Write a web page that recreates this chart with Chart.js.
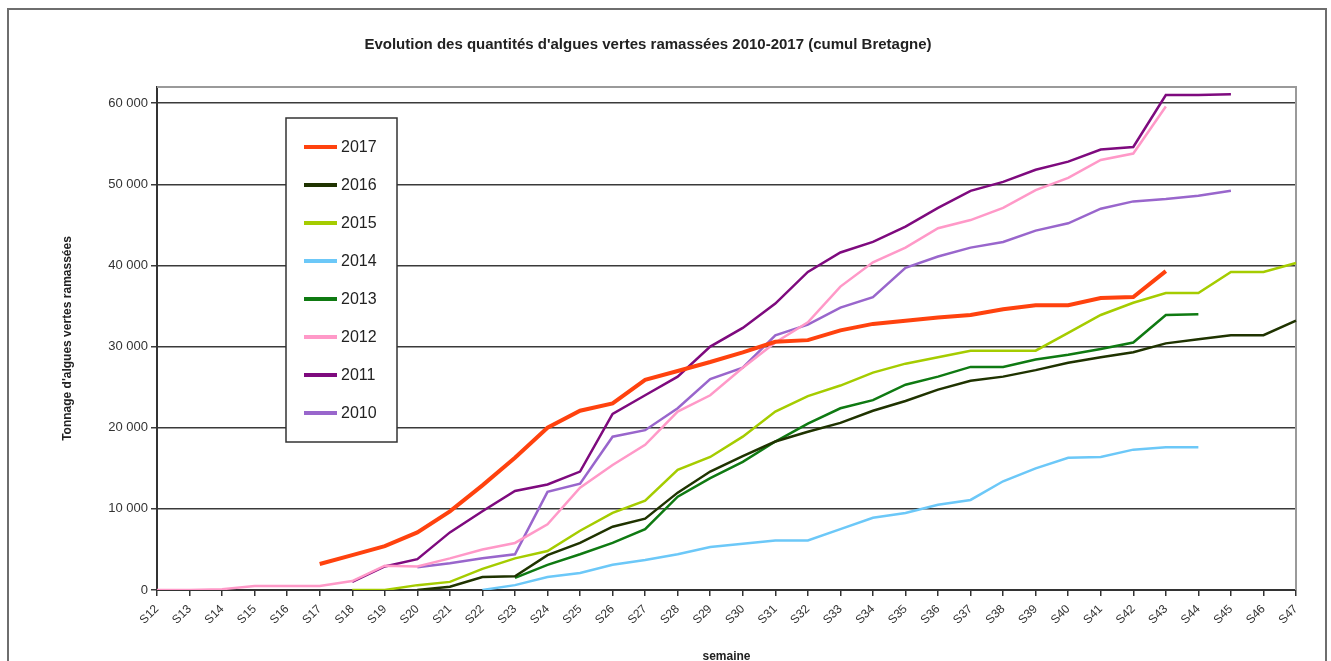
<!DOCTYPE html>
<html lang="fr">
<head>
<meta charset="utf-8">
<title>Algues vertes ramassées 2010-2017</title>
<script src="https://cdn.jsdelivr.net/npm/chart.js@4/dist/chart.umd.min.js"></script>
<style>
  html, body { margin: 0; padding: 0; background: #fff; overflow: hidden; }
  #cadre { position: absolute; left: 7px; top: 8px; width: 1316px; height: 700px; border: 2px solid #6e6e6e; }
  #zone { position: absolute; left: 0; top: 0; width: 1331px; height: 661px; }
</style>
</head>
<body>
<div id="cadre"></div>
<div id="zone"><canvas id="graphique" width="1331" height="661"></canvas></div>
<script>
// Semaines
const semaines = ['S12','S13','S14','S15','S16','S17','S18','S19','S20','S21','S22','S23',
  'S24','S25','S26','S27','S28','S29','S30','S31','S32','S33','S34','S35',
  'S36','S37','S38','S39','S40','S41','S42','S43','S44','S45','S46','S47'];

const annees = ['2017','2016','2015','2014','2013','2012','2011','2010'];

// Graduations de l'axe vertical
const graduations = [0, 10000, 20000, 30000, 40000, 50000, 60000];

// Cumul en tonnes (null = pas de donnée)
const cumul2017 = [null,null,null,null,null,3200,4300,5400,7100,9700,12900,16300,
  20000,22100,23000,25900,27000,28100,29300,30600,30800,32000,32800,33200,
  33600,33900,34600,35100,35100,36000,36100,39300,null,null,null,null];
const cumul2016 = [null,null,null,null,null,null,null,null,0,400,1600,1700,
  4300,5800,7800,8800,12000,14600,16500,18300,19500,20600,22100,23300,
  24700,25800,26300,27100,28000,28700,29300,30400,30900,31400,31400,33200];
const cumul2015 = [null,null,null,null,null,null,0,0,600,1000,2600,3900,
  4800,7300,9500,11000,14800,16400,18900,22000,23900,25200,26800,27900,
  28700,29500,29500,29500,31700,33900,35400,36600,36600,39200,39200,40300];
const cumul2014 = [null,null,null,null,null,null,null,null,null,null,0,600,
  1600,2100,3100,3700,4400,5300,5700,6100,6100,7500,8900,9500,
  10500,11100,13400,15000,16300,16400,17300,17600,17600,null,null,null];
const cumul2013 = [null,null,null,null,null,null,null,null,null,null,null,1500,
  3100,4400,5800,7500,11500,13800,15800,18300,20500,22400,23400,25300,
  26300,27500,27500,28400,29000,29700,30500,33900,34000,null,null,null];
const cumul2012 = [0,0,100,500,500,500,1100,3000,2900,3900,5000,5800,
  8100,12600,15400,17900,22000,24000,27400,30500,33000,37400,40400,42200,
  44600,45600,47100,49300,50800,53000,53800,59600,null,null,null,null];
const cumul2011 = [null,null,null,null,null,null,1000,2900,3800,7100,9700,12200,
  13000,14600,21700,24000,26300,30000,32300,35300,39200,41600,42900,44800,
  47100,49200,50300,51800,52800,54300,54600,61000,61000,61100,null,null];
const cumul2010 = [null,null,null,null,null,null,null,null,2800,3300,3900,4400,
  12100,13100,18900,19700,22400,26000,27400,31400,32700,34800,36100,39700,
  41100,42200,42900,44300,45200,47000,47900,48200,48600,49200,null,null];

const series = [cumul2017, cumul2016, cumul2015, cumul2014, cumul2013, cumul2012, cumul2011, cumul2010];
const couleurs = ['#ff420e', '#1f3300', '#a5cc00', '#6cc8f8', '#0f7a12', '#ff99c8', '#7e0a7e', '#9966cc'];
const epaisseurs = [4, 2.5, 2.5, 2.5, 2.5, 2.5, 2.5, 2.5];

const police = '"Liberation Sans", Arial, sans-serif';

// 60000 -> "60 000"
function milliers(v) {
  return String(v).replace(/\B(?=(\d{3})+(?!\d))/g, ' ');
}

// Cadre gris haut / droite de la zone de tracé
const bordureZone = {
  id: 'bordureZone',
  beforeDatasetsDraw(chart) {
    const { ctx, chartArea: a } = chart;
    ctx.save();
    ctx.strokeStyle = '#9a9a9a';
    ctx.lineWidth = 2;
    ctx.beginPath();
    ctx.moveTo(a.left, a.top);
    ctx.lineTo(a.right, a.top);
    ctx.lineTo(a.right, a.bottom);
    ctx.stroke();
    ctx.restore();
  }
};

// Légende encadrée dans la zone de tracé
const legendeBoite = {
  id: 'legendeBoite',
  afterDraw(chart) {
    const { ctx, chartArea: a } = chart;
    const x0 = a.left + 129, y0 = a.top + 31;
    ctx.save();
    ctx.fillStyle = '#fff';
    ctx.fillRect(x0, y0, 111, 324);
    ctx.strokeStyle = '#333';
    ctx.lineWidth = 1.5;
    ctx.strokeRect(x0, y0, 111, 324);
    ctx.font = '16px ' + police;
    ctx.textBaseline = 'middle';
    chart.data.datasets.forEach((ds, i) => {
      const y = y0 + 29 + i * 38;
      ctx.strokeStyle = ds.borderColor;
      ctx.lineWidth = 4;
      ctx.beginPath();
      ctx.moveTo(x0 + 18, y);
      ctx.lineTo(x0 + 51, y);
      ctx.stroke();
      ctx.fillStyle = '#222';
      ctx.fillText(ds.label, x0 + 55, y + 1);
    });
    ctx.restore();
  }
};

const ctx = document.getElementById('graphique').getContext('2d');

new Chart(ctx, {
  type: 'line',
  data: {
    labels: semaines,
    datasets: annees.map((an, i) => ({
      label: an,
      data: series[i],
      borderColor: couleurs[i],
      backgroundColor: couleurs[i],
      borderWidth: epaisseurs[i],
      pointRadius: 0,
      tension: 0,
      fill: false
    }))
  },
  options: {
    responsive: false,
    animation: false,
    layout: { padding: { left: 0, right: 35, top: 0, bottom: 0 } },
    plugins: {
      legend: { display: false },
      tooltip: { enabled: false },
      title: {
        display: true,
        text: "Evolution des quantités d'algues vertes ramassées 2010-2017 (cumul Bretagne)",
        color: '#222',
        font: { size: 15, weight: 'bold', family: police },
        padding: { top: 36, bottom: 33 }
      }
    },
    scales: {
      x: {
        offset: false,
        ticks: {
          autoSkip: false, maxRotation: 45, minRotation: 45, padding: 6,
          color: '#333', font: { size: 12, family: police }
        },
        grid: { drawOnChartArea: false, tickLength: 6, color: '#333', lineWidth: 1.5 },
        border: { color: '#333', width: 2 },
        title: {
          display: true, text: 'semaine', color: '#222',
          font: { size: 12, weight: 'bold', family: police },
          padding: { top: 0, bottom: -3 }
        },
        afterFit(scale) { scale.height = 71; }
      },
      y: {
        min: 0,
        max: 62000,
        ticks: {
          padding: 3, color: '#333',
          font: { size: 13, family: police },
          callback: v => milliers(v)
        },
        grid: { color: '#3a3a3a', lineWidth: 1.5, tickLength: 6 },
        border: { color: '#333', width: 2 },
        title: {
          display: true, text: "Tonnage d'algues vertes ramassées", color: '#222',
          font: { size: 12, weight: 'bold', family: police },
          padding: { top: 60, bottom: 0 }
        },
        afterBuildTicks(scale) {
          scale.ticks = graduations.map(v => ({ value: v }));
        },
        afterFit(scale) { scale.width = 157; }
      }
    }
  },
  plugins: [bordureZone, legendeBoite]
});
</script>
</body>
</html>
